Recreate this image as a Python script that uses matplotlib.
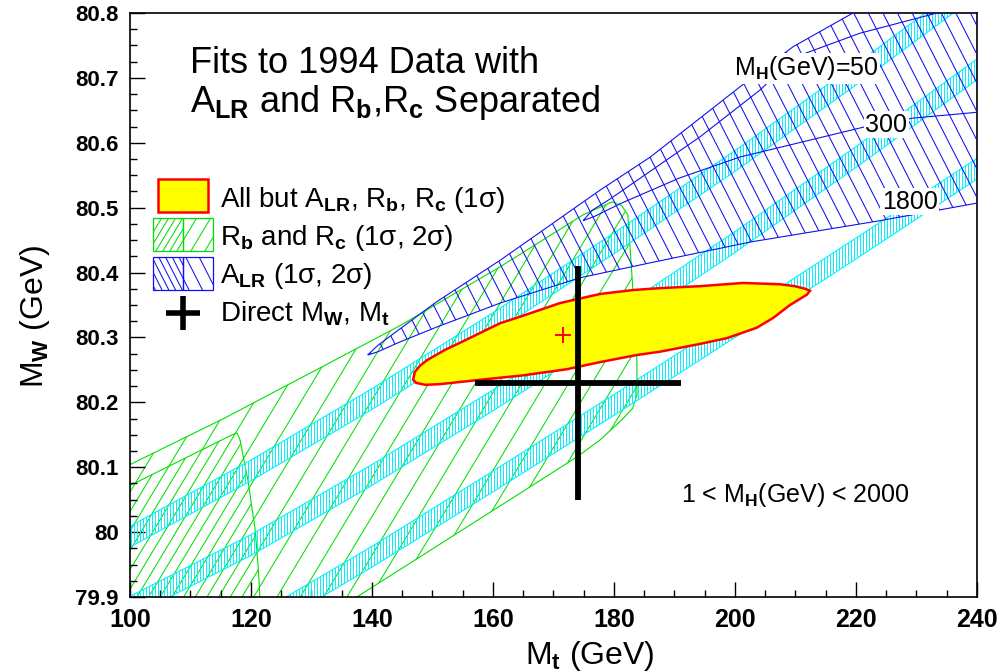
import numpy as np
import matplotlib
matplotlib.use("Agg")
import matplotlib.pyplot as plt
from matplotlib.patches import Polygon
from matplotlib.collections import LineCollection
from matplotlib.ticker import MultipleLocator, FuncFormatter

# ---------------------------------------------------------------- data
# Standard Model M_W vs m_t for three Higgs masses (band centres, GeV)
MT_GRID = [100, 120, 140, 160, 180, 200, 220, 240]
MW_MH50 = [79.993, 80.095, 80.205, 80.322, 80.445, 80.572, 80.705, 80.843]
MW_MH300 = [79.885, 79.980, 80.088, 80.203, 80.322, 80.447, 80.578, 80.713]
MW_MH1800 = [79.750, 79.852, 79.962, 80.078, 80.196, 80.316, 80.437, 80.560]
BAND_HALF_WIDTH = 0.016

# R_b, R_c contours (2 sigma outer, 1 sigma inner)
RBRC_2S_MT = [88.4, 100.0, 115.7, 131.4, 144.6, 161.2, 174.9, 179.7, 181.3, 182.3,
              183.1, 183.8, 183.8, 183.1, 181.3, 177.7, 173.9, 164.5, 137.5, 128.1, 88.4]
RBRC_2S_MW = [80.045, 80.104, 80.176, 80.253, 80.318, 80.409, 80.489, 80.509, 80.503, 80.489,
              80.378, 80.265, 80.211, 80.191, 80.173, 80.142, 80.116, 80.060, 79.900, 79.845, 79.790]
RBRC_1S_MT = [95.0, 99.2, 116.9, 117.7, 118.2, 118.5, 119.5, 120.7, 121.2, 121.5, 121.8, 88.4]
RBRC_1S_MW = [80.045, 80.068, 80.150, 80.153, 80.142, 80.127, 80.080, 80.003, 79.946, 79.896,
              79.834, 79.834]

# A_LR contours (2 sigma outer, 1 sigma inner)
ALR_2S_MT = [139.3, 141.0, 144.6, 150.7, 161.2, 177.7, 186.0, 200.8, 209.6, 219.5, 227.3,
             243.8, 243.8, 240.0, 224.0, 202.5, 186.0, 174.4, 161.2, 150.7, 144.6, 141.0]
ALR_2S_MW = [80.273, 80.288, 80.313, 80.355, 80.419, 80.527, 80.578, 80.686, 80.748, 80.800,
             80.851, 80.851, 80.512, 80.507, 80.480, 80.447, 80.415, 80.392, 80.353, 80.316,
             80.293, 80.278]
ALR_1S_MT = [174.9, 176.4, 179.3, 194.2, 204.1, 209.9, 220.7, 233.4, 243.8, 243.8, 240.0,
             229.4, 221.2, 200.8, 190.9, 181.0, 176.9]
ALR_1S_MW = [80.480, 80.496, 80.513, 80.609, 80.681, 80.732, 80.769, 80.800, 80.828, 80.651,
             80.647, 80.638, 80.624, 80.578, 80.546, 80.506, 80.487]

# All data except A_LR, R_b, R_c (1 sigma)
ALL_1S_MT = [146.8, 147.1, 147.9, 149.1, 152.1, 154.6, 161.2, 164.5, 171.1, 177.7, 183.1,
             187.6, 194.2, 201.3, 207.4, 209.9, 211.6, 212.4, 211.9, 209.1, 206.3, 203.6,
             198.7, 194.2, 187.6, 183.8, 177.7, 172.2, 164.5, 161.2, 156.2, 151.2, 148.8, 147.3]
ALL_1S_MW = [80.235, 80.247, 80.256, 80.265, 80.281, 80.292, 80.322, 80.332, 80.353, 80.367,
             80.373, 80.376, 80.379, 80.384, 80.382, 80.379, 80.375, 80.372, 80.366, 80.350,
             80.330, 80.315, 80.299, 80.290, 80.278, 80.273, 80.262, 80.251, 80.241, 80.238,
             80.233, 80.228, 80.227, 80.230]
BEST_MT, BEST_MW = 171.5, 80.304

# Direct measurements
MT_DIRECT, MT_ERR = 174.0, 17.0
MW_DIRECT, MW_ERR = 80.23, 0.18

# Higgs-mass labels: (text, Mt, MW)
MH_LABELS = [("$M_{\\mathbf{H}}$(GeV)=50", 199.8, 80.704),
             ("300", 221.5, 80.617),
             ("1800", 224.3, 80.498)]

# ---------------------------------------------------------------- style
plt.rcParams['font.family'] = ['Liberation Sans', 'DejaVu Sans']
plt.rcParams['mathtext.fontset'] = 'custom'
plt.rcParams['mathtext.rm'] = 'Liberation Sans'
plt.rcParams['mathtext.it'] = 'Liberation Sans'
plt.rcParams['mathtext.bf'] = 'Liberation Sans:bold'
plt.rcParams['mathtext.default'] = 'rm'

GREEN = '#00e000'
BLUE = '#1010f0'
CYAN = '#00f0ff'

fig = plt.figure(figsize=(10.02, 6.71), dpi=100)
ax = fig.add_axes([0.1297, 0.1103, 0.8453, 0.8703])
ax.set_xlim(100, 240)
ax.set_ylim(79.9, 80.8)


def add_hatch(patch, angle, spacing, color, lw, offset=0.0, z=1):
    """Parallel lines at a given screen angle (deg) and spacing (px), clipped to patch."""
    bb = ax.get_window_extent()
    W, H = bb.width, bb.height
    th = np.deg2rad(angle)
    d = np.array([np.cos(th), np.sin(th)])
    n = np.array([-np.sin(th), np.cos(th)])
    corners = np.array([[0, 0], [W, 0], [0, H], [W, H]])
    proj = corners @ n
    L = 2 * np.hypot(W, H)
    ts = np.arange(proj.min() - spacing + offset, proj.max() + spacing, spacing)
    segs = []
    for t in ts:
        c = t * n
        p0, p1 = c - L * d, c + L * d
        segs.append([(p0[0] / W, p0[1] / H), (p1[0] / W, p1[1] / H)])
    lc = LineCollection(segs, colors=color, linewidths=lw,
                        transform=ax.transAxes, zorder=z)
    ax.add_collection(lc, autolim=False)
    lc.set_clip_path(patch)
    lc.set_clip_box(ax.bbox)


def region(mt, mw, color, z, lw=0.8):
    p = Polygon(np.column_stack([mt, mw]), closed=True, fill=False,
                edgecolor=color, linewidth=lw, zorder=z)
    ax.add_patch(p)
    return p


def axes_box(x0, y0, w, h, **kw):
    p = Polygon([(x0, y0), (x0 + w, y0), (x0 + w, y0 + h), (x0, y0 + h)], closed=True,
                transform=ax.transAxes, **kw)
    ax.add_patch(p)
    return p


# R_b, R_c contours
g2 = region(RBRC_2S_MT, RBRC_2S_MW, GREEN, 1)
add_hatch(g2, 59, 20.0, GREEN, 0.75, z=1)
g1 = region(RBRC_1S_MT, RBRC_1S_MW, GREEN, 1)
add_hatch(g1, 59, 20.0, GREEN, 0.75, offset=10.0, z=1)

# SM bands for M_H = 50, 300, 1800 GeV
for centre in (MW_MH50, MW_MH300, MW_MH1800):
    c = np.asarray(centre)
    xs = np.asarray(MT_GRID, dtype=float)
    band_x = np.concatenate([xs, xs[::-1]])
    band_y = np.concatenate([c + BAND_HALF_WIDTH, (c - BAND_HALF_WIDTH)[::-1]])
    b = region(band_x, band_y, CYAN, 2, lw=0.8)
    add_hatch(b, 90, 3.0, CYAN, 0.7, z=2)

# A_LR contours
b2 = region(ALR_2S_MT, ALR_2S_MW, BLUE, 3)
add_hatch(b2, -63, 13.0, BLUE, 0.75, z=3)
b1 = region(ALR_1S_MT, ALR_1S_MW, BLUE, 3)

# Global fit without A_LR, R_b, R_c
ax.add_patch(Polygon(np.column_stack([ALL_1S_MT, ALL_1S_MW]), closed=True,
                     facecolor='#ffff00', edgecolor='#ff0000', linewidth=1.8, zorder=4))
ax.plot([BEST_MT], [BEST_MW], marker='+', color='#ff0000', markersize=11,
        markeredgewidth=1.4, zorder=6)

# Direct measurement cross
ax.errorbar([MT_DIRECT], [MW_DIRECT], xerr=[MT_ERR], yerr=[MW_ERR], fmt='none',
            ecolor='black', elinewidth=4.2, capsize=0, zorder=5)

# Higgs-mass labels
for txt, x, y in MH_LABELS:
    ax.text(x, y, txt, fontsize=18, ha='left', va='baseline', zorder=7,
            bbox=dict(facecolor='white', edgecolor='none', pad=1.0))
ax.text(209.9, 80.047, "1 < $M_{\\mathbf{H}}$(GeV) < 2000", fontsize=18,
        ha='center', va='baseline', zorder=7)

# Title block
ax.text(0.0708, 0.897, "Fits to 1994 Data with", transform=ax.transAxes,
        fontsize=26, ha='left', va='baseline', zorder=7)
ax.text(0.0708, 0.830, "$A_{\\mathbf{LR}}$ and $R_{\\mathbf{b}}$,$R_{\\mathbf{c}}$ Separated",
        transform=ax.transAxes, fontsize=26, ha='left', va='baseline', zorder=7)

# Legend, drawn by hand
axes_box(0.033, 0.659, 0.059, 0.057, facecolor='#ffff00', edgecolor='#ff0000',
         linewidth=1.8, zorder=7)
for y0, color, ang in ((0.592, GREEN, 59), (0.526, BLUE, -63)):
    left = axes_box(0.0272, y0, 0.0354, 0.057, fill=False, edgecolor=color,
                    linewidth=0.9, zorder=7)
    right = axes_box(0.0626, y0, 0.0354, 0.057, fill=False, edgecolor=color,
                     linewidth=0.9, zorder=7)
    add_hatch(left, ang, 6.0, color, 0.75, z=7)
    add_hatch(right, ang, 12.0, color, 0.75, z=7)
ax.plot([0.0626], [0.486], transform=ax.transAxes, marker='+', color='black',
        markersize=24, markeredgewidth=4.0, zorder=7, clip_on=False)

legend_texts = [
    (0.668, "All but $A_{\\mathbf{LR}}$, $R_{\\mathbf{b}}$, $R_{\\mathbf{c}}$ (1σ)"),
    (0.603, "$R_{\\mathbf{b}}$ and $R_{\\mathbf{c}}$ (1σ, 2σ)"),
    (0.538, "$A_{\\mathbf{LR}}$ (1σ, 2σ)"),
    (0.471, "Direct $M_{\\mathbf{W}}$, $M_{\\mathbf{t}}$"),
]
for y, txt in legend_texts:
    ax.text(0.106, y, txt, transform=ax.transAxes, fontsize=20,
            ha='left', va='baseline', zorder=7)

# Axes cosmetics
ax.xaxis.set_major_locator(MultipleLocator(20))
ax.xaxis.set_minor_locator(MultipleLocator(5))
ax.yaxis.set_major_locator(MultipleLocator(0.1))
ax.yaxis.set_minor_locator(MultipleLocator(0.025))
ax.yaxis.set_major_formatter(FuncFormatter(lambda v, p: f"{v:.1f}".rstrip('0').rstrip('.')))
ax.tick_params(which='both', direction='in', top=False, right=False, width=1.0)
ax.tick_params(which='major', length=11, pad=8)
ax.tick_params(axis='x', which='major', labelsize=18)
ax.tick_params(axis='y', which='major', labelsize=16)
ax.tick_params(which='minor', length=5)
for lab in ax.get_xticklabels() + ax.get_yticklabels():
    lab.set_fontweight('bold')
for s in ax.spines.values():
    s.set_linewidth(1.2)

ax.set_xlabel("$M_{\\mathbf{t}}$ (GeV)", fontsize=23)
ax.xaxis.set_label_coords(0.543, -0.072)
ax.set_ylabel("$M_{\\mathbf{W}}$ (GeV)", fontsize=23)
ax.yaxis.set_label_coords(-0.092, 0.48)

fig.savefig("out.png", dpi=100)
